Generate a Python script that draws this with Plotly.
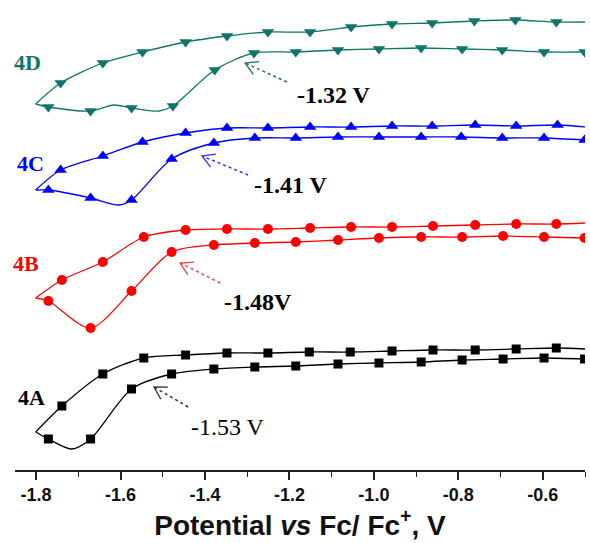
import math
import plotly.graph_objects as go

# ---------------- data (potential V vs Fc/Fc+, current in arbitrary offset units) -------------
# Each CV: lower branch and upper branch, both starting at the switching vertex (-1.80 V).
# *_m flags: 1 = point carries a marker symbol, 0 = shape point only

# 4A (black squares)
A_lo_x = [-1.801, -1.771, -1.716, -1.671, -1.574, -1.479, -1.379, -1.282, -1.185, -1.085, -0.988, -0.888, -0.791, -0.694, -0.597, -0.501]
A_lo_y = [38, 31, 21, 31, 81, 96, 101, 103, 104, 106, 107, 108, 110, 111, 112, 111]
A_lo_m = [0, 1, 0, 1, 1, 1, 1, 1, 1, 1, 1, 1, 1, 1, 1, 1]
A_up_x = [-1.801, -1.739, -1.642, -1.545, -1.446, -1.348, -1.251, -1.153, -1.056, -0.957, -0.860, -0.760, -0.663, -0.568, -0.499]
A_up_y = [38, 64, 96, 112, 115, 117, 117, 118, 118, 119, 120, 120, 121, 122, 121]
A_up_m = [0, 1, 1, 1, 1, 1, 1, 1, 1, 1, 1, 1, 1, 1, 0]

# 4B (red circles)
B_lo_x = [-1.801, -1.771, -1.671, -1.574, -1.479, -1.379, -1.282, -1.185, -1.085, -0.988, -0.888, -0.791, -0.694, -0.597, -0.501]
B_lo_y = [172, 169, 142, 179, 218, 225, 227, 228, 230, 232, 233, 233, 234, 233, 232]
B_lo_m = [0, 1, 1, 1, 1, 1, 1, 1, 1, 1, 1, 1, 1, 1, 1]
B_up_x = [-1.801, -1.739, -1.642, -1.545, -1.446, -1.348, -1.251, -1.151, -1.054, -0.957, -0.860, -0.760, -0.663, -0.568, -0.499]
B_up_y = [172, 190, 208, 233, 240, 241, 241, 242, 243, 243, 244, 245, 246, 246, 247]
B_up_m = [0, 1, 1, 1, 1, 1, 1, 1, 1, 1, 1, 1, 1, 1, 0]

# 4C (blue up-triangles)
C_lo_x = [-1.801, -1.771, -1.671, -1.604, -1.574, -1.479, -1.379, -1.282, -1.185, -1.085, -0.988, -0.888, -0.793, -0.696, -0.597, -0.501]
C_lo_y = [280, 280, 272, 265, 270, 311, 327, 332, 332, 333, 333, 333, 333, 332, 332, 330]
C_lo_m = [0, 1, 1, 0, 1, 1, 1, 1, 1, 1, 1, 1, 1, 1, 1, 1]
C_up_x = [-1.801, -1.742, -1.642, -1.548, -1.446, -1.348, -1.251, -1.151, -1.054, -0.957, -0.862, -0.760, -0.663, -0.565, -0.499]
C_up_y = [280, 300, 314, 328, 337, 342, 342, 343, 343, 344, 344, 345, 344, 345, 343]
C_up_m = [0, 1, 1, 1, 1, 1, 1, 1, 1, 1, 1, 1, 1, 1, 0]

# 4D (teal down-triangles)
D_lo_x = [-1.801, -1.771, -1.671, -1.616, -1.574, -1.509, -1.476, -1.377, -1.284, -1.185, -1.085, -0.988, -0.888, -0.791, -0.696, -0.597, -0.501]
D_lo_y = [366, 363, 359, 365, 362, 359, 364, 400, 417, 418, 420, 421, 422, 421, 420, 418, 418]
D_lo_m = [0, 1, 1, 0, 1, 0, 1, 1, 1, 1, 1, 1, 1, 1, 1, 1, 1]
D_up_x = [-1.801, -1.742, -1.642, -1.548, -1.446, -1.348, -1.251, -1.151, -1.054, -0.957, -0.862, -0.762, -0.665, -0.568, -0.499]
D_up_y = [366, 387, 407, 418, 428, 434, 438, 438, 443, 446, 447, 449, 450, 448, 448]
D_up_m = [0, 1, 1, 1, 1, 1, 1, 1, 1, 1, 1, 1, 1, 1, 0]

# labels and onset annotations
curve_names = ["4A", "4B", "4C", "4D"]
curve_colors = ["#000000", "#ff0000", "#0000ff", "#0f7569"]
curve_symbols = ["square", "circle", "triangle-up", "triangle-down"]
curve_msizes = [9, 10, 11, 11]
name_x = [-1.811, -1.823, -1.813, -1.820]
name_y = [73, 207, 307, 408]
onset_text = ["-1.53 V", "-1.48V", "-1.41 V", "-1.32 V"]
onset_bold = [False, True, True, True]
onset_x = [-1.345, -1.274, -1.196, -1.094]
onset_y = [43, 168, 285, 375]
arrow_tip_x = [-1.521, -1.459, -1.407, -1.305]
arrow_tip_y = [83, 207, 314, 407]
arrow_tail_x = [-1.440, -1.364, -1.298, -1.206]
arrow_tail_y = [63, 187, 295, 388]
arrow_colors = ["#333333", "#ff4040", "#3030ff", "#1f6f66"]

# axis
x_range = [-1.85, -0.5]
y_range = [0, 470]
tick_vals = [-1.8, -1.6, -1.4, -1.2, -1.0, -0.8, -0.6]
tick_text = ["-1.8", "-1.6", "-1.4", "-1.2", "-1.0", "-0.8", "-0.6"]

# ---------------- figure ----------------
W, H = 590, 543
ML, MR, MT, MB = 15, 5, 0, 73
PX_PER_X = (W - ML - MR) / (x_range[1] - x_range[0])
PX_PER_Y = (H - MT - MB) / (y_range[1] - y_range[0])

branches = [
    [(A_lo_x, A_lo_y, A_lo_m), (A_up_x, A_up_y, A_up_m)],
    [(B_lo_x, B_lo_y, B_lo_m), (B_up_x, B_up_y, B_up_m)],
    [(C_lo_x, C_lo_y, C_lo_m), (C_up_x, C_up_y, C_up_m)],
    [(D_lo_x, D_lo_y, D_lo_m), (D_up_x, D_up_y, D_up_m)],
]

fig = go.Figure()
for i, br in enumerate(branches):
    col = curve_colors[i]
    for bx, by, bm in br:
        fig.add_trace(go.Scatter(x=bx, y=by, mode="lines",
                                 line=dict(color=col, width=1.3, shape="spline", smoothing=0.8),
                                 hoverinfo="skip", showlegend=False))
        mx = [xv for xv, f in zip(bx, bm) if f]
        my = [yv for yv, f in zip(by, bm) if f]
        fig.add_trace(go.Scatter(x=mx, y=my, mode="markers",
                                 marker=dict(color=col, symbol=curve_symbols[i],
                                             size=curve_msizes[i], line=dict(width=0)),
                                 showlegend=False, name=curve_names[i]))

annotations = []
shapes = []
for i in range(4):
    annotations.append(dict(x=name_x[i], y=name_y[i], xref="x", yref="y", text="<b>%s</b>" % curve_names[i],
                            showarrow=False, font=dict(family="Liberation Serif", size=22, color=curve_colors[i])))
    txt = onset_text[i]
    if onset_bold[i]:
        txt = "<b>%s</b>" % txt
    annotations.append(dict(x=onset_x[i], y=onset_y[i], xref="x", yref="y", text=txt,
                            showarrow=False, font=dict(family="Liberation Serif", size=24, color="#000000")))
    # dotted shaft
    shapes.append(dict(type="line", xref="x", yref="y",
                       x0=arrow_tail_x[i], y0=arrow_tail_y[i], x1=arrow_tip_x[i], y1=arrow_tip_y[i],
                       line=dict(color=arrow_colors[i], width=1.5, dash="dot")))
    # open V arrowhead
    dx = (arrow_tail_x[i] - arrow_tip_x[i]) * PX_PER_X
    dy = (arrow_tail_y[i] - arrow_tip_y[i]) * PX_PER_Y
    n = math.hypot(dx, dy)
    ux, uy = dx / n, dy / n
    pts = []
    for ang in (math.radians(30), -math.radians(30)):
        rx = ux * math.cos(ang) - uy * math.sin(ang)
        ry = ux * math.sin(ang) + uy * math.cos(ang)
        pts.append((arrow_tip_x[i] + 14 * rx / PX_PER_X, arrow_tip_y[i] + 14 * ry / PX_PER_Y))
    path = "M %f,%f L %f,%f L %f,%f" % (pts[0][0], pts[0][1], arrow_tip_x[i], arrow_tip_y[i], pts[1][0], pts[1][1])
    shapes.append(dict(type="path", xref="x", yref="y", path=path,
                       line=dict(color=arrow_colors[i], width=1.3)))

fig.update_layout(
    width=W, height=H,
    margin=dict(l=ML, r=MR, t=MT, b=MB),
    paper_bgcolor="white", plot_bgcolor="white",
    showlegend=False,
    annotations=annotations, shapes=shapes,
    xaxis=dict(range=x_range, tickmode="array", tickvals=tick_vals, ticktext=tick_text,
               showgrid=False, zeroline=False, showline=True, linecolor="#222222", linewidth=1.6,
               ticks="outside", ticklen=8, tickwidth=1.6, tickcolor="#222222",
               minor=dict(dtick=0.1, tick0=-1.8, ticks="outside", ticklen=5, tickwidth=1.4, tickcolor="#222222", showgrid=False),
               tickfont=dict(family="Liberation Sans", size=18, color="#111111", weight="bold"),
               title=dict(text="Potential <i>vs</i> Fc/ Fc<sup>+</sup>, V", standoff=2,
                          font=dict(family="Liberation Sans", size=28, color="#111111", weight="bold"))),
    yaxis=dict(range=y_range, visible=False, showgrid=False, zeroline=False),
)

fig.write_html("out.html", config={"displayModeBar": False},
               post_script="document.body.style.margin='0px';document.body.style.overflow='hidden';")
